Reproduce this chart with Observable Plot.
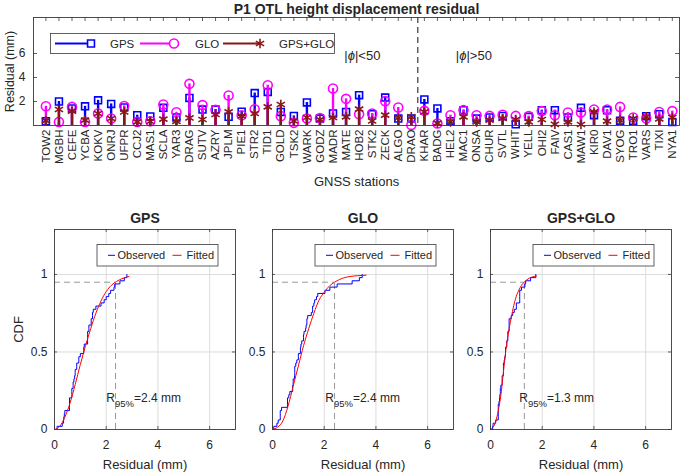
<!DOCTYPE html>
<html>
<head>
<meta charset="utf-8">
<script src="https://cdn.jsdelivr.net/npm/d3@7"></script>
<script src="https://cdn.jsdelivr.net/npm/@observablehq/plot@0.6"></script>
<style>
  html, body { margin: 0; padding: 0; background: #fff; }
  #root { position: relative; width: 685px; height: 472px; overflow: hidden; background: #fff; }
  #root svg { position: absolute; }
</style>
</head>
<body>
<div id="root"></div>
<script>
// ---------------- DATA ----------------
const title = "P1 OTL height displacement residual";
const stations = ["TOW2","MGBH","CEFE","YCBA","KOKV","ONRJ","UFPR","CCJ2","MAS1","SCLA","YAR3","DRAG","SUTV","AZRY","JPLM","PIE1","STR2","TID1","GOLD","TSK2","WARK","GODZ","MADR","MATE","HOB2","STK2","ZECK","ALGO","DRAO","KHAR","BADG","HEL2","MAC1","ONSA","CHUR","SVTL","WHIT","YELL","OHI2","FAIV","CAS1","MAW1","KIR0","DAV1","SYOG","TRO1","VARS","TIXI","NYA1"];
const gps  = [0.35,2.0,1.42,1.6,2.1,1.8,1.5,0.86,0.75,1.47,0.67,2.3,1.33,1.33,0.72,1.15,2.7,2.8,1.13,0.8,1.92,0.58,1.0,1.13,2.53,0.94,2.33,0.58,0.58,2.17,1.42,0.36,1.28,0.58,0.67,0.8,0.1,0.72,1.28,1.28,0.67,1.47,0.86,1.28,0.4,0.38,0.78,0.94,0.3];
const glo  = [1.6,0.3,1.55,0.3,1.0,0.58,1.63,0.3,0.35,1.75,1.1,3.47,1.7,1.3,2.5,0.85,1.36,3.36,0.78,0.22,0.58,0.63,3.08,2.22,0.94,1.0,2.03,1.5,0.05,1.22,0.17,0.86,1.28,0.86,0.8,0.9,0.8,0.78,1.2,0.86,1.08,1.08,1.33,1.33,1.55,0.67,0.58,1.13,1.2];
const comb = [0.4,1.33,1.2,0.45,1.0,0.58,1.13,0.3,0.33,0.53,0.35,0.63,0.5,0.92,1.13,0.8,1.0,1.55,1.75,0.38,0.67,0.5,0.67,0.72,1.36,0.38,0.86,0.63,0.72,1.13,0.2,0.3,0.72,0.3,0.45,0.58,0.5,0.3,0.5,0.1,0.3,0.08,1.13,0.36,0.45,0.58,0.72,0.55,0.67];
const lowLatCount = 29;           // stations with |phi|<50 (TOW2 ... DRAO)
const seriesNames = ["GPS", "GLO", "GPS+GLO"];
const yTicksTop = [2, 4, 6];

// CDF panels
const r95 = [2.36, 2.4, 1.31];
const level = 0.95;
const fitXGps  = [0, 0.2, 0.4, 0.6, 0.8, 1.0, 1.2, 1.4, 1.6, 1.8, 2.0, 2.2, 2.4, 2.6, 2.88];
const fitYGps  = [0, 0.02, 0.08, 0.17, 0.29, 0.42, 0.54, 0.65, 0.75, 0.83, 0.89, 0.93, 0.955, 0.972, 0.987];
const fitXGlo  = [0, 0.2, 0.4, 0.6, 0.8, 1.0, 1.2, 1.4, 1.6, 1.8, 2.0, 2.2, 2.4, 2.6, 2.8, 3.0, 3.3, 3.62];
const fitYGlo  = [0, 0.015, 0.055, 0.15, 0.28, 0.41, 0.54, 0.65, 0.75, 0.835, 0.886, 0.925, 0.95, 0.968, 0.98, 0.987, 0.992, 0.995];
const fitXComb = [0, 0.1, 0.2, 0.3, 0.4, 0.5, 0.6, 0.7, 0.8, 0.9, 1.0, 1.1, 1.2, 1.3, 1.4, 1.5, 1.6, 1.78];
const fitYComb = [0, 0.015, 0.05, 0.12, 0.22, 0.37, 0.52, 0.63, 0.72, 0.8, 0.86, 0.9, 0.93, 0.95, 0.965, 0.976, 0.983, 0.99];
const cdfXTicks = [0, 2, 4, 6];
const cdfYTicks = [0, 0.5, 1];

// ---------------- STYLE ----------------
const FONT = '"Liberation Sans", Arial, Helvetica, sans-serif';
const INK = "#262626";
const AX = "#3a3a3a";
const C = { gps: "#0000ff", glo: "#ff00ff", comb: "#8a1616" };
const root = document.getElementById("root");

// ---------------- TOP STEM CHART ----------------
const W = 685, TH = 190;
const tm = { l: 33, r: 6, t: 17, b: 65 };
const frameHTop = TH - tm.t - tm.b;
const frameWTop = W - tm.l - tm.r;
const rows = stations.map((s, i) => ({ i: i + 1, s, gps: gps[i], glo: glo[i], comb: comb[i] }));
const idx = rows.map(d => d.i);
const divider = lowLatCount + 0.5;

const topChart = Plot.plot({
  width: W, height: TH,
  marginLeft: tm.l, marginRight: tm.r, marginTop: tm.t, marginBottom: tm.b,
  style: { fontFamily: FONT, fontSize: "12px", color: INK, background: "transparent", overflow: "visible" },
  x: { domain: [0.05, 49.55] },
  y: { domain: [0, 9] },
  marks: [
    Plot.ruleX([divider], { x: d => d, stroke: "#111", strokeWidth: 1, strokeDasharray: "6,4" }),
    Plot.ruleX(rows, { x: "i", y1: 0, y2: "gps", stroke: C.gps, strokeWidth: 2.4 }),
    Plot.dot(rows, { x: "i", y: "gps", symbol: "square", r: 3.9, stroke: C.gps, strokeWidth: 1.6, fill: "none" }),
    Plot.ruleX(rows, { x: "i", y1: 0, y2: "glo", stroke: C.glo, strokeWidth: 2.4 }),
    Plot.dot(rows, { x: "i", y: "glo", symbol: "circle", r: 4.5, stroke: C.glo, strokeWidth: 1.6, fill: "none" }),
    Plot.ruleX(rows, { x: "i", y1: 0, y2: "comb", stroke: C.comb, strokeWidth: 2.4 }),
    Plot.dot(rows, { x: "i", y: "comb", symbol: "asterisk", r: 4.5, stroke: C.comb, strokeWidth: 1.6 }),
    // inward ticks
    Plot.ruleX(idx, { x: d => d, insetTop: frameHTop - 4, stroke: AX, strokeWidth: 0.8 }),
    Plot.ruleX(idx, { x: d => d, insetBottom: frameHTop - 4, stroke: AX, strokeWidth: 0.8 }),
    Plot.ruleY(yTicksTop, { y: d => d, insetRight: frameWTop - 4, stroke: AX, strokeWidth: 0.8 }),
    Plot.ruleY(yTicksTop, { y: d => d, insetLeft: frameWTop - 4, stroke: AX, strokeWidth: 0.8 }),
    Plot.axisX(idx, { tickSize: 0, tickPadding: 4, tickRotate: -90, tickFormat: i => stations[i - 1], fontSize: 11.5, label: null }),
    Plot.axisY(yTicksTop, { tickSize: 0, tickPadding: 8, fontSize: 12, label: null, tickFormat: d => String(d) }),
    Plot.frame({ stroke: AX, strokeWidth: 0.9 }),
    Plot.text([title], { text: d => d, frameAnchor: "top", dy: -8, lineAnchor: "middle", textAnchor: "middle", fontSize: 14, fontWeight: "bold" }),
    Plot.text(["GNSS stations"], { text: d => d, frameAnchor: "bottom", dy: 56, lineAnchor: "middle", textAnchor: "middle", fontSize: 13 }),
    Plot.text(["Residual (mm)"], { text: d => d, frameAnchor: "left", dx: -24, rotate: -90, lineAnchor: "middle", textAnchor: "middle", fontSize: 12.5 })
  ]
});
topChart.style.left = "0px";
topChart.style.top = "0px";
root.appendChild(topChart);

// legend + latitude annotations for the top chart
(function () {
  const g = d3.select(topChart).append("g")
    .attr("font-family", FONT).attr("font-size", 11.5).attr("fill", INK).attr("text-anchor", "start");
  const lx = 50.5, ly = 33.5, lw = 284, lh = 20, cy = ly + lh / 2;
  g.append("rect").attr("x", lx).attr("y", ly).attr("width", lw).attr("height", lh)
    .attr("fill", "#fff").attr("stroke", AX).attr("stroke-width", 0.8);
  const items = [
    { name: seriesNames[0], color: C.gps, sym: d3.symbolSquare, r: 3.9, x1: 55, x2: 91, tx: 110 },
    { name: seriesNames[1], color: C.glo, sym: d3.symbolCircle, r: 4.5, x1: 140, x2: 174, tx: 195 },
    { name: seriesNames[2], color: C.comb, sym: d3.symbolAsterisk, r: 4.5, x1: 223, x2: 260, tx: 279 }
  ];
  for (const it of items) {
    g.append("line").attr("x1", it.x1).attr("x2", it.x2).attr("y1", cy).attr("y2", cy)
      .attr("stroke", it.color).attr("stroke-width", 2.2);
    g.append("path").attr("d", d3.symbol(it.sym, Math.PI * it.r * it.r)())
      .attr("transform", `translate(${it.x2},${cy})`)
      .attr("fill", it.sym === d3.symbolAsterisk ? "none" : "#fff")
      .attr("stroke", it.color).attr("stroke-width", 1.6);
    g.append("text").attr("x", it.tx).attr("y", cy).attr("dy", "0.35em").text(it.name);
  }
  const px = topChart.scale("x").apply(divider);
  const ay = tm.t + 38;
  const mk = (x, rel) => {
    const t = g.append("text").attr("x", x).attr("y", ay).attr("dy", "0.35em").attr("font-size", 13);
    t.append("tspan").text("|");
    t.append("tspan").attr("font-style", "italic").text("ϕ");
    t.append("tspan").text("|" + rel + "50");
  };
  mk(px - 73, "<");
  mk(px + 38.5, ">");
})();

// ---------------- CDF PANELS ----------------
const PH = 282, pm = { l: 54, r: 10, t: 39, b: 43 }, frameW = 181;
const frameH = PH - pm.t - pm.b;
const panelLeft = [0, 218, 436];
const residuals = [gps, glo, comb];
const fitXs = [fitXGps, fitXGlo, fitXComb];
const fitYs = [fitYGps, fitYGlo, fitYComb];

seriesNames.forEach((name, k) => {
  const sorted = d3.sort(residuals[k]);
  const n = sorted.length;
  const obs = [{ x: sorted[0], y: 0 }, ...sorted.map((v, i) => ({ x: v, y: (i + 1) / n }))];
  const fit = fitXs[k].map((x, i) => ({ x, y: fitYs[k][i] }));
  const svg = Plot.plot({
    width: pm.l + frameW + pm.r, height: PH,
    marginLeft: pm.l, marginRight: pm.r, marginTop: pm.t, marginBottom: pm.b,
    style: { fontFamily: FONT, fontSize: "12px", color: INK, background: "transparent", overflow: "visible" },
    x: { domain: [0, 7] },
    y: { domain: [0, 1.29] },
    marks: [
      Plot.gridX([2, 4, 6], { stroke: "#dcdcdc", strokeOpacity: 1 }),
      Plot.gridY([0.5, 1], { stroke: "#dcdcdc", strokeOpacity: 1 }),
      Plot.ruleY([level], { y: d => d, x1: 0, x2: r95[k], stroke: "#999", strokeWidth: 1, strokeDasharray: "6,4" }),
      Plot.ruleX([r95[k]], { x: d => d, y1: 0, y2: level, stroke: "#999", strokeWidth: 1, strokeDasharray: "6,4" }),
      Plot.line(obs, { x: "x", y: "y", curve: "step-after", stroke: "#0000ff", strokeWidth: 1 }),
      Plot.line(fit, { x: "x", y: "y", curve: "monotone-x", stroke: "#ff0000", strokeWidth: 1 }),
      Plot.ruleX(cdfXTicks, { x: d => d, insetTop: frameH - 3, stroke: AX, strokeWidth: 0.8 }),
      Plot.ruleX(cdfXTicks, { x: d => d, insetBottom: frameH - 3, stroke: AX, strokeWidth: 0.8 }),
      Plot.ruleY(cdfYTicks, { y: d => d, insetRight: frameW - 3, stroke: AX, strokeWidth: 0.8 }),
      Plot.ruleY(cdfYTicks, { y: d => d, insetLeft: frameW - 3, stroke: AX, strokeWidth: 0.8 }),
      Plot.axisX(cdfXTicks, { tickSize: 0, tickPadding: 11, fontSize: 12, label: null, tickFormat: d => String(d) }),
      Plot.axisY(cdfYTicks, { tickSize: 0, tickPadding: 7, fontSize: 12, label: null, tickFormat: d => String(d) }),
      Plot.frame({ stroke: AX, strokeWidth: 0.9 }),
      Plot.text([name], { text: d => d, frameAnchor: "top", dy: -11, lineAnchor: "middle", textAnchor: "middle", fontSize: 14, fontWeight: "bold" }),
      Plot.text(["Residual (mm)"], { text: d => d, frameAnchor: "bottom", dy: 35, lineAnchor: "middle", textAnchor: "middle", fontSize: 13 }),
      k === 0 ? Plot.text(["CDF"], { text: d => d, frameAnchor: "left", dx: -36, rotate: -90, lineAnchor: "middle", textAnchor: "middle", fontSize: 13 }) : null,
      Plot.text([r95[k]], { x: d => 0.85 * d, y: 0.2, text: d => `R95%=${d.toFixed(1)} mm`, textAnchor: "start", fontSize: 12 })
    ]
  });
  svg.style.left = panelLeft[k] + "px";
  svg.style.top = "190px";
  root.appendChild(svg);

  // subscript formatting of R95%
  svg.querySelectorAll("text").forEach(t => {
    const s = t.textContent;
    if (s.startsWith("R95%")) {
      const rest = s.slice(4);
      t.textContent = "";
      const sel = d3.select(t);
      sel.append("tspan").text("R");
      sel.append("tspan").attr("font-size", 9.5).attr("dy", 4.5).text("95%");
      sel.append("tspan").attr("dy", -4.5).text(rest);
    }
  });

  // legend
  const g = d3.select(svg).append("g").attr("font-family", FONT).attr("font-size", 11)
    .attr("fill", INK).attr("text-anchor", "start");
  const x0 = pm.l, y0 = pm.t, cy = y0 + 26.3;
  g.append("rect").attr("x", x0 + 43).attr("y", y0 + 15.5).attr("width", 121).attr("height", 21.5)
    .attr("fill", "#fff").attr("stroke", AX).attr("stroke-width", 0.8);
  g.append("line").attr("x1", x0 + 54).attr("x2", x0 + 61).attr("y1", cy).attr("y2", cy).attr("stroke", "#0000ff");
  g.append("text").attr("x", x0 + 63.5).attr("y", cy).attr("dy", "0.35em").text("Observed");
  g.append("line").attr("x1", x0 + 118.5).attr("x2", x0 + 127.5).attr("y1", cy).attr("y2", cy).attr("stroke", "#ff0000");
  g.append("text").attr("x", x0 + 132.5).attr("y", cy).attr("dy", "0.35em").text("Fitted");
});
</script>
</body>
</html>
